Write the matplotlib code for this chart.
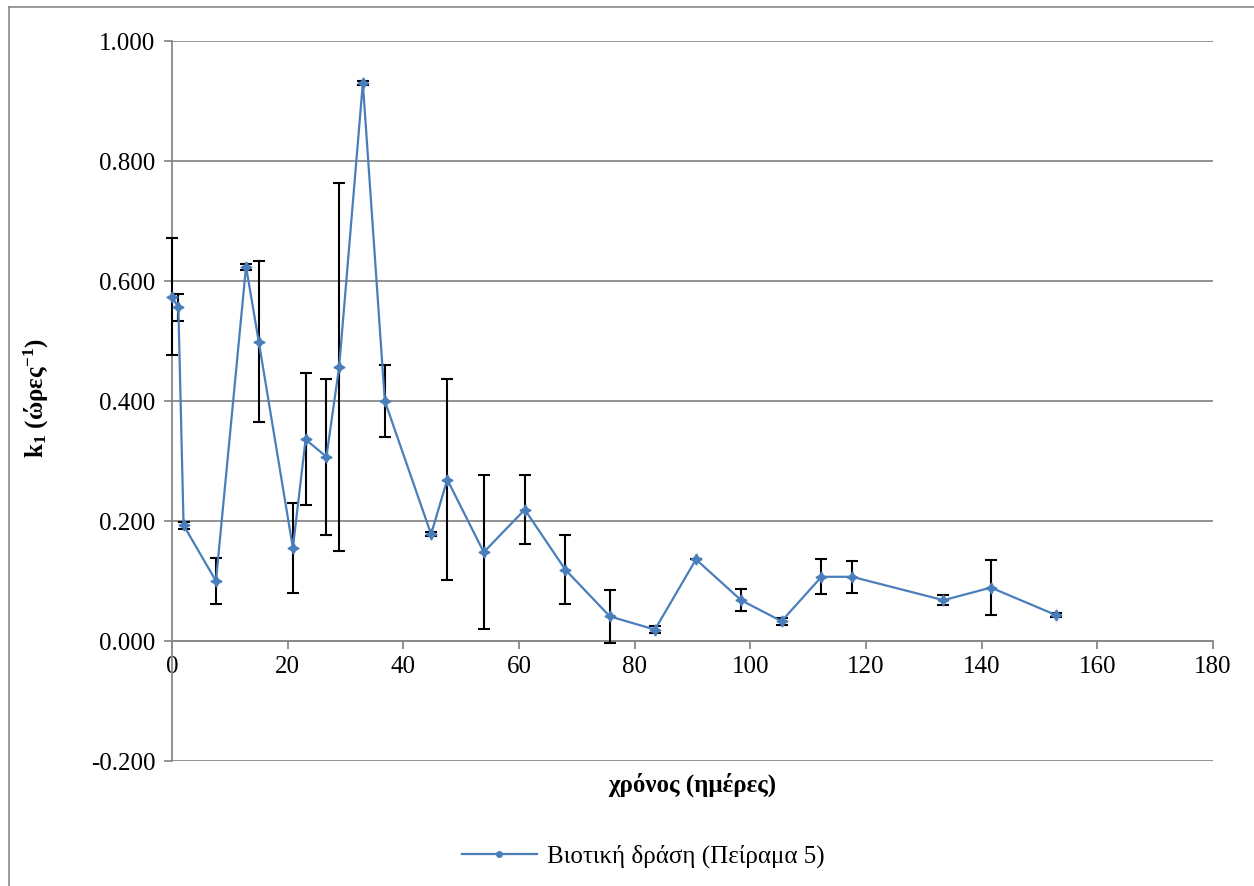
import matplotlib
matplotlib.use("Agg")
import matplotlib.pyplot as plt
from matplotlib.lines import Line2D

# Δεδομένα (εκτίμηση από το διάγραμμα)
days = [0, 1.1, 2.0, 7.6, 12.8, 15.0, 20.9, 23.1, 26.7, 28.9, 33.0, 36.8,
        44.8, 47.6, 53.9, 61.0, 68.0, 75.7, 83.5, 90.6, 98.4, 105.4,
        112.3, 117.6, 133.4, 141.6, 152.9]
k1 = [0.574, 0.556, 0.193, 0.100, 0.624, 0.499, 0.155, 0.336, 0.307, 0.457,
      0.930, 0.400, 0.178, 0.269, 0.148, 0.219, 0.119, 0.041, 0.019, 0.136,
      0.068, 0.033, 0.107, 0.107, 0.068, 0.089, 0.043]
k1_err = [0.098, 0.023, 0.006, 0.039, 0.005, 0.134, 0.075, 0.110, 0.130, 0.307,
          0.003, 0.060, 0.003, 0.168, 0.128, 0.058, 0.058, 0.044, 0.006, 0.0,
          0.018, 0.006, 0.029, 0.027, 0.008, 0.046, 0.003]
series_name = "Βιοτική δράση (Πείραμα 5)"

plt.rcParams['font.family'] = ['Liberation Serif', 'DejaVu Serif']
plt.rcParams['mathtext.fontset'] = 'custom'
plt.rcParams['mathtext.rm'] = 'Liberation Serif:bold'
plt.rcParams['mathtext.it'] = 'Liberation Serif:bold'
plt.rcParams['mathtext.bf'] = 'Liberation Serif:bold'

grid_c = '#898989'
blue = '#4A7EBB'
fs = 18

fig = plt.figure(figsize=(12.54, 8.86), dpi=100)
ax = fig.add_axes([172/1254, 1 - 761/886, (1213 - 172)/1254, (761 - 41)/886])

eb = ax.errorbar(days, k1, yerr=k1_err, fmt='none', ecolor='black', elinewidth=1.5,
                 capsize=4, capthick=1.5, zorder=3)
for art in eb.lines[1] + eb.lines[2]:
    art.set_clip_on(False)
ax.plot(days, k1, color=blue, lw=1.6, marker=(4, 1, 0), ms=8, mfc=blue, mec=blue,
        zorder=4, clip_on=False)

ax.set_xlim(0, 180)
ax.set_ylim(-0.2, 1.0)
ax.set_xticks(range(0, 181, 20))
ax.set_yticks([-0.2, 0, 0.2, 0.4, 0.6, 0.8, 1.0])
ax.yaxis.set_major_formatter(plt.FuncFormatter(lambda v, _: f'{v:.3f}'))
ax.grid(axis='y', color=grid_c, lw=1.3)
ax.set_axisbelow(True)

for s in ['top', 'right']:
    ax.spines[s].set_visible(False)
ax.spines['bottom'].set_position(('data', 0))
ax.spines['bottom'].set_color(grid_c)
ax.spines['bottom'].set_linewidth(1.3)
ax.spines['left'].set_color(grid_c)
ax.spines['left'].set_linewidth(1.3)
ax.tick_params(axis='y', direction='out', length=6, color=grid_c, width=1.3,
               labelsize=fs, pad=6)
ax.tick_params(axis='x', direction='out', length=6, color=grid_c, width=1.3,
               labelsize=fs, pad=5)

fig.text((172 + 1213) / 2 / 1254, 1 - 785/886, "χρόνος (ημέρες)", ha='center',
         va='center', fontsize=fs, fontweight='bold')
fig.text(36/1254, 1 - 398/886, r"k$_1$ (ώρες$^{-1}$)", rotation=90, ha='center',
         va='center', fontsize=fs, fontweight='bold')

handle = Line2D([], [], color=blue, lw=1.6, marker='o', ms=4)
fig.legend([handle], [series_name], loc='center', bbox_to_anchor=(643/1254, 1 - 856/886),
           frameon=False, fontsize=fs, handlelength=3.0, handletextpad=0.4)

# πλαίσιο γραφήματος
fig.add_artist(Line2D([9/1254, 9/1254], [0, 1 - 7/886], color=grid_c, lw=1.2))
fig.add_artist(Line2D([9/1254, 1], [1 - 7/886, 1 - 7/886], color=grid_c, lw=1.2))

fig.savefig('out.png', dpi=100)
